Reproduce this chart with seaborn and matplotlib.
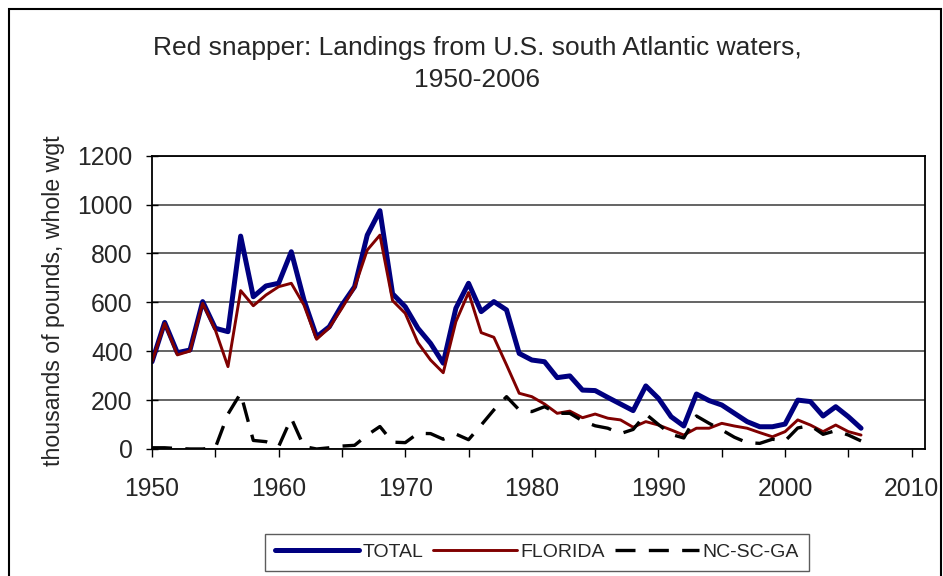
import numpy as np
import pandas as pd
import seaborn as sns
import matplotlib.pyplot as plt
import matplotlib.patches as patches
from matplotlib.ticker import MultipleLocator

# values (thousands of pounds, whole weight)
years = list(range(1950, 2007))

total = [357, 518, 394, 405, 603, 494, 480, 871, 623, 667, 678, 807, 610, 459, 500, 589, 664, 875, 975, 635,
         582, 494, 432, 351, 576, 678, 562, 603, 569, 391, 364, 357, 292, 299, 241, 239, 211, 184, 157, 258,
         207, 132, 94, 225, 198, 180, 146, 112, 91, 91, 102, 200, 194, 135, 173, 132, 85]

florida = [357, 514, 385, 401, 596, 487, 337, 648, 586, 630, 664, 678, 589, 449, 496, 576, 661, 814, 875, 607,
           555, 435, 364, 312, 521, 640, 476, 457, 344, 228, 214, 184, 146, 155, 128, 143, 126, 119, 89, 112,
           98, 78, 57, 85, 85, 105, 94, 85, 67, 50, 71, 119, 98, 71, 98, 71, 57]

ncscga = [5, 5, 2, 0, 0, 5, 143, 228, 35, 30, 10, 126, 10, 0, 5, 12, 15, 57, 92, 28,
          26, 64, 63, 40, 61, 38, 98, 160, 214, 160, 153, 173, 146, 146, 115, 95, 85, 63, 80, 143,
          100, 60, 45, 135, 105, 78, 48, 26, 23, 40, 33, 86, 96, 60, 75, 57, 33]

series_names = ["TOTAL", "FLORIDA", "NC-SC-GA"]
series_colors = ["#000080", "#800000", "#000000"]

title = "Red snapper: Landings from U.S. south Atlantic waters,\n1950-2006"
ylabel = "thousands of pounds, whole wgt"
x_ticks = list(range(1950, 2011, 10))
y_ticks = list(range(0, 1201, 200))

tabela = pd.DataFrame({"ano": years, "TOTAL": total, "FLORIDA": florida, "NC-SC-GA": ncscga})

sns.set_style("white")
plt.rcParams['font.family'] = ['Liberation Sans', 'DejaVu Sans']

fig = plt.figure(figsize=(9.43, 5.76), dpi=100)
ax = fig.add_axes([0.1612, 0.2205, 0.8197, 0.5092])

sns.lineplot(data=tabela, x="ano", y="TOTAL", ax=ax, color=series_colors[0], linewidth=3.6, label="TOTAL")
sns.lineplot(data=tabela, x="ano", y="FLORIDA", ax=ax, color=series_colors[1], linewidth=2.1, label="FLORIDA")
sns.lineplot(data=tabela, x="ano", y="NC-SC-GA", ax=ax, color=series_colors[2], linewidth=2.4,
             label="NC-SC-GA", dashes=False)
ax.lines[2].set_dashes((6, 4))

ax.set_xlim(1950, 2011.05)
ax.set_ylim(0, 1200)
ax.set_xticks(x_ticks)
ax.xaxis.set_minor_locator(MultipleLocator(5))
ax.set_yticks(y_ticks)
ax.set_xlabel("")
ax.set_ylabel(ylabel, fontsize=16.7)
ax.yaxis.set_label_coords(-0.113, 0.505)

ax.grid(axis="y", color="#3a3a3a", linewidth=1.1)
ax.set_axisbelow(True)
for s in ax.spines.values():
    s.set_color("black")
    s.set_linewidth(1.3)

ax.tick_params(axis="x", which="both", direction="out", length=6, width=1, color="black",
               labelsize=17.8, pad=14, bottom=True)
ax.tick_params(axis="y", direction="inout", length=8, width=1, color="black",
               labelsize=17.8, pad=10, left=True)

fig.text(0.506, 0.889, title, ha="center", va="center", multialignment="center",
         fontsize=19, linespacing=1.4)

handles, labels = ax.get_legend_handles_labels()
ax.get_legend().remove()
leg = fig.legend(handles, labels, ncol=3, loc="center", bbox_to_anchor=(0.5695, 0.0408),
                 frameon=True, fancybox=False, edgecolor="#333333", fontsize=14,
                 handlelength=4.3, handletextpad=0.2, columnspacing=0.5, borderpad=0.5)
leg.get_frame().set_linewidth(1.0)

# borda do grafico
fig.add_artist(patches.Rectangle((9 / 943, -0.05), 932 / 943, 1.05 - 9 / 576, transform=fig.transFigure,
                                 fill=False, edgecolor="black", linewidth=1.5, clip_on=False))

fig.savefig("out.png", dpi=100, facecolor="white")
